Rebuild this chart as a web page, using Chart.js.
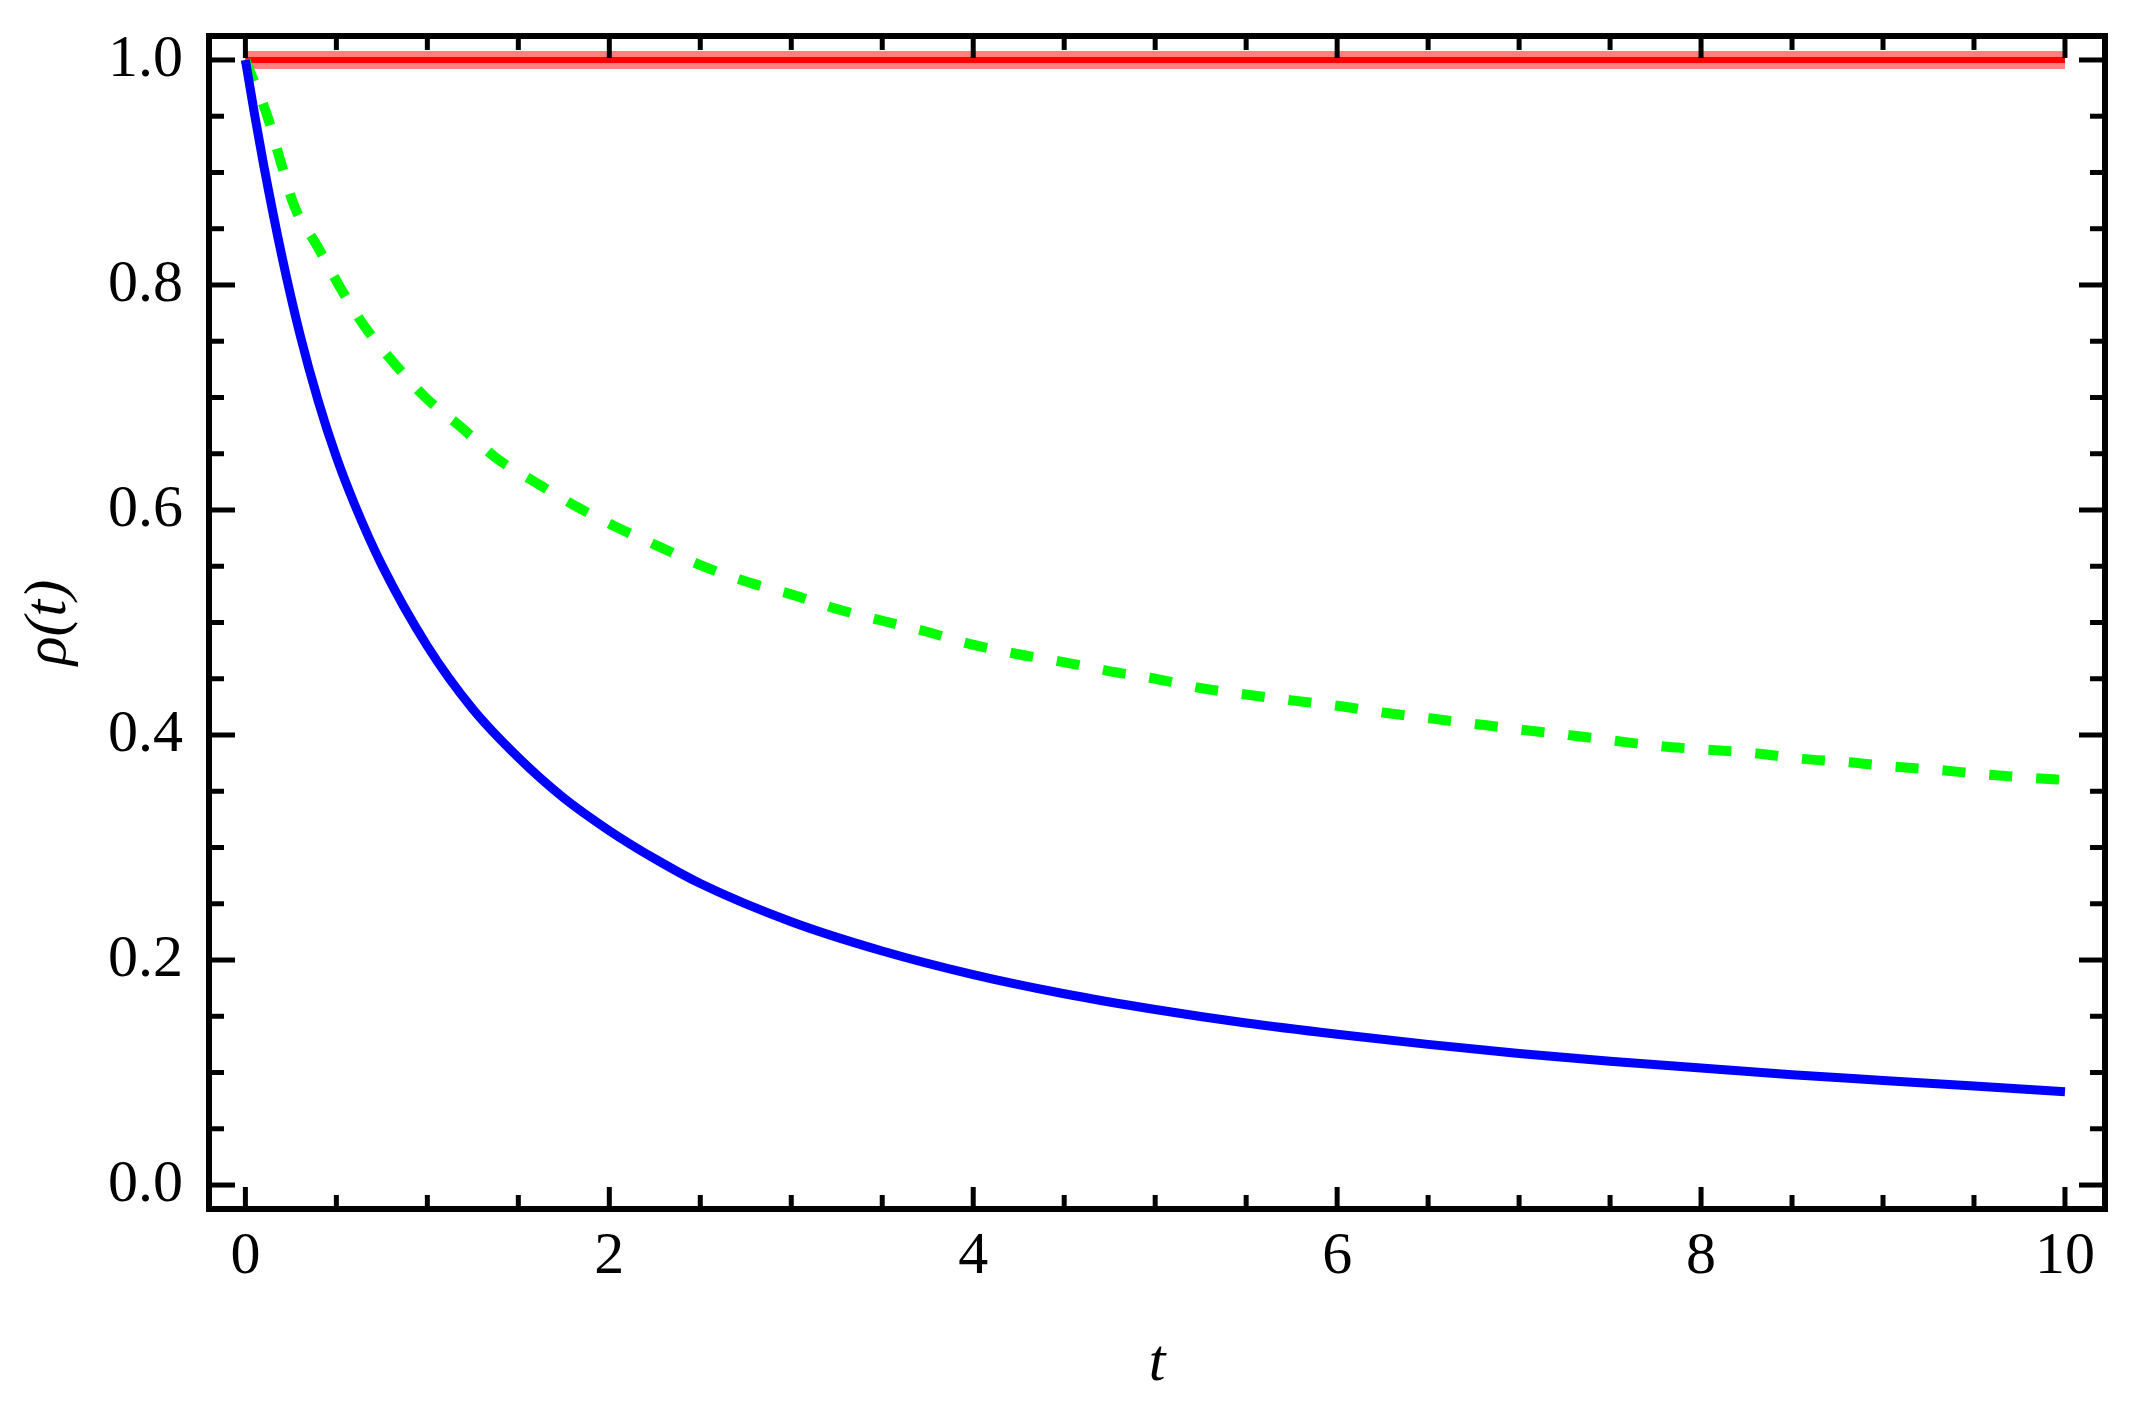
<!DOCTYPE html>
<html>
<head>
<meta charset="utf-8">
<script src="https://cdn.jsdelivr.net/npm/chart.js@4.4.1/dist/chart.umd.min.js"></script>
<style>
  html, body { margin: 0; padding: 0; background: #fff; }
  canvas { display: block; }
</style>
</head>
<body>
<canvas id="c" width="2149" height="1408"></canvas>
<script>
// ---- data ----
const redT = [0, 10];
const redRho = [1.0, 1.0];

const blueT = [0, 0.05, 0.1, 0.2, 0.3, 0.4, 0.5, 0.6, 0.75, 1, 1.25, 1.5, 1.75, 2, 2.25, 2.5, 3, 3.5, 4, 4.5, 5, 5.5, 6, 6.5, 7, 7.5, 8, 8.5, 9, 9.5, 10];
const blueRho = [1.0, 0.952, 0.907, 0.826, 0.756, 0.697, 0.647, 0.605, 0.551, 0.479, 0.423, 0.380, 0.344, 0.315, 0.290, 0.268, 0.234, 0.208, 0.187, 0.170, 0.156, 0.144, 0.134, 0.125, 0.117, 0.110, 0.104, 0.098, 0.093, 0.088, 0.083];

const greenT = [0, 0.123, 0.193, 0.269, 0.397, 0.52, 0.66, 0.82, 0.99, 1.19, 1.38, 1.6, 1.82, 2.05, 2.28, 2.5, 2.76, 3.0, 3.25, 3.49, 3.74, 3.98, 4.24, 4.49, 4.74, 5.0, 5.24, 5.5, 5.74, 6.0, 6.25, 6.5, 6.75, 7.0, 7.27, 7.52, 7.78, 8.03, 8.29, 8.54, 8.8, 9.05, 9.3, 9.56, 9.81, 10];
const greenRho = [1.0, 0.949, 0.910, 0.870, 0.834, 0.798, 0.762, 0.730, 0.700, 0.673, 0.646, 0.624, 0.603, 0.584, 0.567, 0.551, 0.536, 0.525, 0.512, 0.502, 0.492, 0.481, 0.472, 0.465, 0.457, 0.450, 0.442, 0.436, 0.431, 0.426, 0.420, 0.415, 0.410, 0.405, 0.400, 0.395, 0.390, 0.387, 0.384, 0.379, 0.376, 0.372, 0.369, 0.365, 0.362, 0.360];

const xTickValues = [0, 2, 4, 6, 8, 10];
const yTickValues = [0.0, 0.2, 0.4, 0.6, 0.8, 1.0];
const xTitle = 't';
const yTitle = 'ρ(t)';

// ---- helpers ----
const pts = (xs, ys) => xs.map((x, i) => ({ x: x, y: ys[i] }));

const framePlugin = {
  id: 'frame',
  afterDatasetsDraw(chart) {
    const { ctx, chartArea: a, scales: { x, y } } = chart;
    ctx.save();
    ctx.strokeStyle = '#000';
    ctx.lineCap = 'butt';
    const seg = (x1, y1, x2, y2) => { ctx.beginPath(); ctx.moveTo(x1, y1); ctx.lineTo(x2, y2); ctx.stroke(); };
    ctx.lineWidth = 5;
    for (let i = 0; i <= 20; i++) {
      const v = i * 0.5;
      const major = xTickValues.includes(v);
      const len = major ? 22 : 14;
      const px = x.getPixelForValue(v);
      seg(px, a.bottom, px, a.bottom - len);
      seg(px, a.top, px, a.top + len);
    }
    for (let i = 0; i <= 20; i++) {
      const v = Math.round(i * 5) / 100;
      const major = yTickValues.some(t => Math.abs(t - v) < 1e-9);
      const len = major ? 26 : 15;
      const py = y.getPixelForValue(v);
      seg(a.left, py, a.left + len, py);
      seg(a.right, py, a.right - len, py);
    }
    ctx.lineWidth = 6;
    ctx.strokeRect(a.left, a.top, a.right - a.left, a.bottom - a.top);
    ctx.restore();
  }
};

const font = { family: '"Liberation Serif", "Times New Roman", serif', size: 60 };
const titleFont = { family: '"Liberation Serif", "Times New Roman", serif', size: 60, style: 'italic' };

const noPad = s => { s.paddingTop = 0; s.paddingBottom = 0; s.paddingLeft = 0; s.paddingRight = 0; };

new Chart(document.getElementById('c'), {
  type: 'line',
  data: {
    datasets: [
      { data: pts(blueT, blueRho), borderColor: '#0000ff', borderWidth: 9, pointRadius: 0, cubicInterpolationMode: 'monotone', fill: false },
      { data: pts(greenT, greenRho), borderColor: '#00ff00', borderWidth: 10, borderDash: [23, 24], borderCapStyle: 'butt', pointRadius: 0, cubicInterpolationMode: 'monotone', fill: false },
      { data: pts(redT, redRho), borderColor: 'rgba(255,0,0,0.5)', borderWidth: 18, pointRadius: 0, fill: false },
      { data: pts(redT, redRho), borderColor: '#ff0000', borderWidth: 6, pointRadius: 0, fill: false }
    ]
  },
  options: {
    responsive: false,
    animation: false,
    events: [],
    layout: { padding: { left: 0, top: 36, right: 44, bottom: 0 } },
    plugins: { legend: { display: false }, tooltip: { enabled: false } },
    scales: {
      x: {
        type: 'linear',
        min: -0.2,
        max: 10.22,
        afterBuildTicks: s => { s.ticks = xTickValues.map(v => ({ value: v })); },
        afterFit: s => { s.height = 199; noPad(s); },
        grid: { display: false, drawTicks: false },
        border: { display: false },
        ticks: { font: font, color: '#000', padding: 12, maxRotation: 0, callback: v => String(v) },
        title: { display: true, text: xTitle, font: titleFont, color: '#000', padding: { top: 0, bottom: 8 } }
      },
      y: {
        type: 'linear',
        min: -0.0213,
        max: 1.0213,
        afterBuildTicks: s => { s.ticks = yTickValues.map(v => ({ value: v })); },
        afterFit: s => { s.width = 209; noPad(s); },
        grid: { display: false, drawTicks: false },
        border: { display: false },
        ticks: { font: font, color: '#000', padding: 26, callback: v => Number(v).toFixed(1) },
        title: { display: true, text: yTitle, font: titleFont, color: '#000', padding: { top: 13, bottom: 0 } }
      }
    }
  },
  plugins: [framePlugin]
});
</script>
</body>
</html>
